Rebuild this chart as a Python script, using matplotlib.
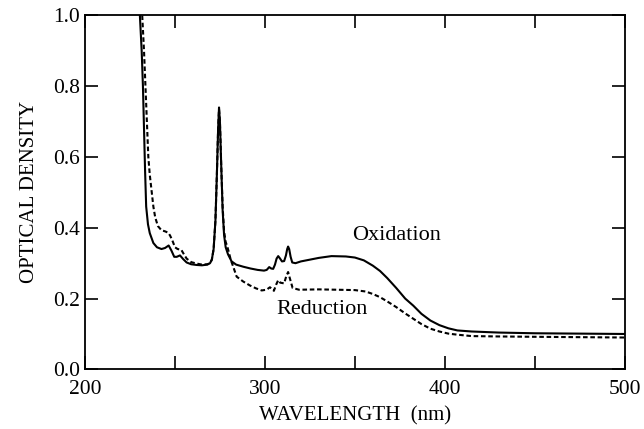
import matplotlib.pyplot as plt

plt.rcParams['font.family'] = ['Liberation Serif', 'DejaVu Serif']

# spectra
ox_wl = [230.5, 231.5, 232.2, 232.8, 233.4, 234, 235, 236, 238, 240, 242.5, 244.5,
         246.5, 248, 249.6, 251, 252.8, 254.5, 256.5, 259, 262, 265, 268, 269.5,
         270.5, 271.5, 272.5, 273.3, 274, 274.5, 275, 275.7, 276.5, 277.3, 278.2,
         279.5, 281.5, 284, 288, 292, 296, 299.5, 301, 302.4, 303.5, 304.6, 305.6,
         306.5, 307.4, 308.3, 309.5, 310.7, 311.7, 312.4, 312.9, 313.5, 314.3, 315.2,
         317, 320, 325, 330, 337, 345,
         350, 355, 360, 364, 368, 373, 378, 382.5, 387, 392, 397, 402, 407, 415,
         430, 450, 475, 500]
ox_od = [1.0, 0.9, 0.8, 0.68, 0.56, 0.46, 0.41, 0.385, 0.357, 0.345, 0.340, 0.343,
         0.350, 0.336, 0.318, 0.318, 0.322, 0.312, 0.302, 0.297, 0.295, 0.294, 0.296, 0.300,
         0.31, 0.34, 0.42, 0.55, 0.68, 0.74, 0.70, 0.58, 0.45, 0.38, 0.345,
         0.325, 0.305, 0.296, 0.290, 0.285, 0.281, 0.279, 0.281, 0.289, 0.285, 0.284, 0.296,
         0.313, 0.320, 0.314, 0.305, 0.306, 0.322, 0.340, 0.347, 0.340, 0.318, 0.302,
         0.300, 0.305, 0.310, 0.315, 0.320, 0.319,
         0.316, 0.308, 0.293, 0.278, 0.258, 0.230, 0.200, 0.180, 0.157, 0.138, 0.125, 0.116, 0.110, 0.107,
         0.104, 0.102, 0.101, 0.100]

red_wl = [231.8, 232.8, 233.6, 234.4, 235.2, 236, 237, 238, 239, 240.5, 242.5, 244.5,
          246.3, 247.3, 248.5, 250, 251.5, 253.5, 255, 256.5, 259, 262, 265, 268, 269.5,
          270.5, 271.5, 272.5, 273.3, 274, 274.5, 275, 275.7, 276.5, 277.3, 278.2,
          279.2, 280, 281, 282.4, 284.3, 288, 291.7, 295, 298.2, 300.9, 302.8, 305,
          306.3, 307.4, 308.5, 310.7, 311.8, 312.9, 314, 315.4, 319, 330, 340, 350,
          356, 360, 364, 368, 373, 378, 382.5, 387, 392, 397, 402, 407, 415, 430,
          450, 475, 500]
red_od = [1.0, 0.9, 0.8, 0.7, 0.60, 0.55, 0.505, 0.46, 0.43, 0.405, 0.393, 0.390,
          0.386, 0.378, 0.365, 0.345, 0.340, 0.338, 0.325, 0.313, 0.303, 0.299, 0.296, 0.297, 0.300,
          0.31, 0.34, 0.42, 0.55, 0.68, 0.735, 0.70, 0.58, 0.46, 0.39, 0.36,
          0.345, 0.33, 0.31, 0.29, 0.262, 0.248, 0.237, 0.229, 0.223, 0.225, 0.232, 0.222,
          0.240, 0.252, 0.245, 0.243, 0.262, 0.275, 0.255, 0.230, 0.225, 0.226, 0.225, 0.224,
          0.220, 0.213, 0.204, 0.192, 0.176, 0.158, 0.143, 0.128, 0.115, 0.107, 0.101, 0.098, 0.094, 0.093,
          0.092, 0.091, 0.090]

x_major = [200, 300, 400, 500]
x_minor = [250, 350, 450]
y_ticks = [0.0, 0.2, 0.4, 0.6, 0.8, 1.0]
y_labels = ['0.0', '0.2', '0.4', '0.6', '0.8', '1.0']

fig = plt.figure(figsize=(6.44, 4.29), dpi=100)
ax = fig.add_axes([0.132, 0.139, 0.838, 0.825])

ax.plot(ox_wl, ox_od, color='black', lw=1.5)
ax.plot(red_wl, red_od, color='black', lw=1.5, linestyle=(0, (2.2, 1.3)))

ax.text(373, 0.35, 'Oxidation', fontsize=16, ha='center', va='bottom')
ax.text(332, 0.168, 'Reduction', fontsize=16, ha='center', va='center')

ax.set_xlim(200, 500)
ax.set_ylim(0, 1.0)
ax.set_xticks(x_major)
ax.set_xticks(x_minor, minor=True)
ax.set_yticks(y_ticks)
ax.set_yticklabels(y_labels)
ax.tick_params(which='both', direction='in', length=9.5, width=1.2,
               top=True, right=True, labelsize=15.5)
ax.tick_params(axis='x', pad=8)
for s in ax.spines.values():
    s.set_linewidth(1.3)

ax.set_xlabel('WAVELENGTH  (nm)', fontsize=15, labelpad=5)
ax.set_ylabel('OPTICAL DENSITY', fontsize=15, labelpad=10)

plt.savefig('out.png')
